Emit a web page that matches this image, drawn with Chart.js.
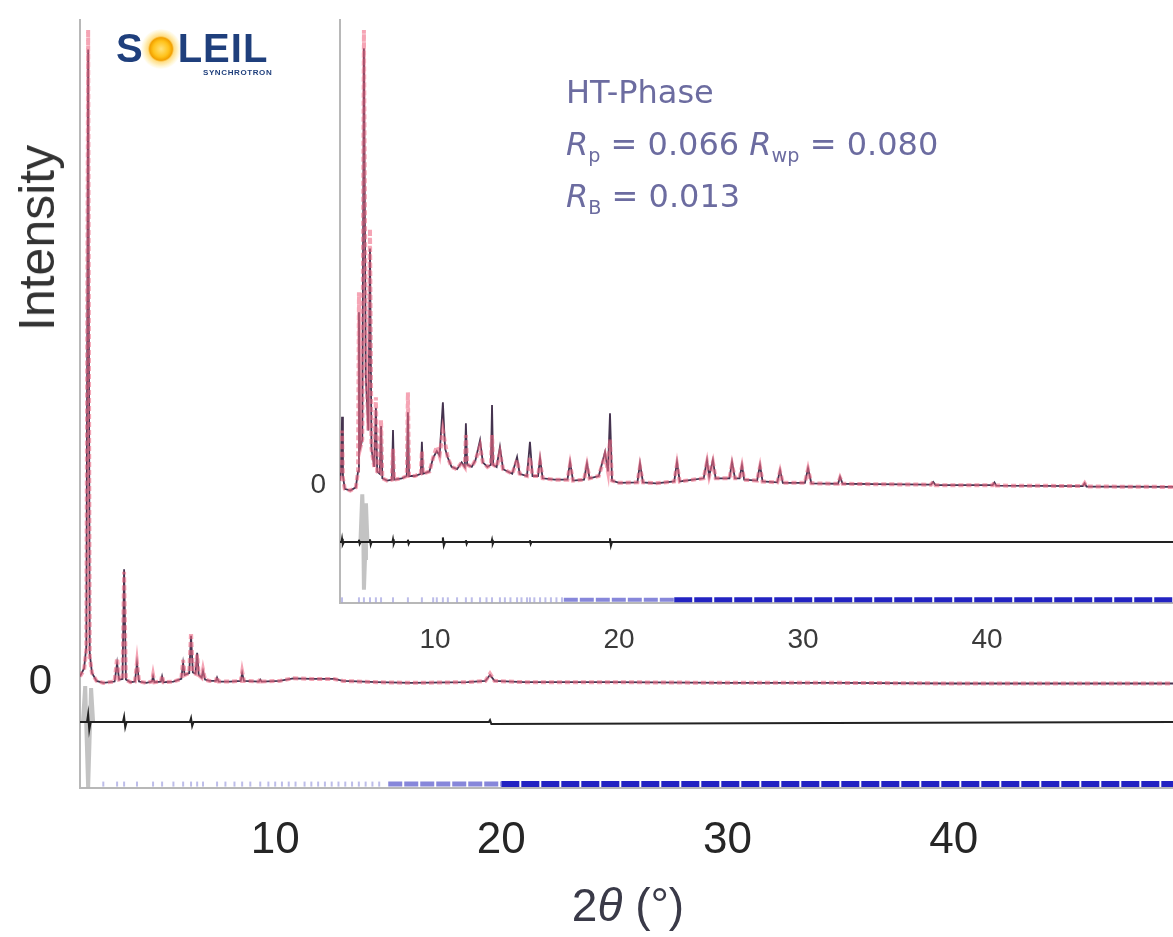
<!DOCTYPE html>
<html>
<head>
<meta charset="utf-8">
<script src="https://cdn.jsdelivr.net/npm/chart.js@4.4.1/dist/chart.umd.min.js"></script>
<style>
  html, body { margin: 0; padding: 0; background: #fff; }
  #wrap { position: relative; width: 1173px; height: 937px; overflow: hidden; font-family: "Liberation Sans", Arial, Helvetica, sans-serif; }
  canvas { position: absolute; }
  #mainChart { left: 0; top: 0; }
  #insetChart { left: 250px; top: 0; }
  .lbl { position: absolute; white-space: nowrap; color: #333; }
  #ylab { left: 37px; top: 238px; font-size: 50px; transform: translate(-50%, -50%) rotate(-90deg); }
  #xlab { left: 628px; top: 905px; font-size: 46px; transform: translate(-50%, -50%); color: #3a3a48; }
  #notes { left: 566px; top: 66px; font-family: "DejaVu Sans", sans-serif; font-size: 32px; line-height: 52px; color: #6c6ca0; }
  #notes sub { font-size: 0.6em; vertical-align: -0.35em; line-height: 0; }
  #logo { left: 116px; top: 26px; font-size: 40px; font-weight: bold; color: #1f3f7c; letter-spacing: 1px; }
  #logo .sun { display: inline-block; width: 40px; height: 40px; border-radius: 50%; vertical-align: -7px; margin: 0 -3px;
    background: radial-gradient(circle, #ffe27a 0, #ffc21a 28%, #f2a000 40%, rgba(255,205,70,0.65) 46%, rgba(255,232,150,0.4) 62%, rgba(255,240,180,0) 72%); }
  #sync { left: 203px; top: 68px; font-size: 8px; font-weight: bold; color: #1f3f7c; letter-spacing: 0.6px; }
</style>
</head>
<body>
<div id="wrap">
  <canvas id="mainChart" width="1173" height="937"></canvas>
  <canvas id="insetChart" width="923" height="670"></canvas>
  <div class="lbl" id="ylab">Intensity</div>
  <div class="lbl" id="xlab">2<i>θ</i> (°)</div>
  <div class="lbl" id="notes">HT-Phase<br><i>R</i><sub>p</sub> = 0.066 <i>R</i><sub>wp</sub> = 0.080<br><i>R</i><sub>B</sub> = 0.013</div>
  <div class="lbl" id="logo">S<span class="sun"></span>LEIL</div>
  <div class="lbl" id="sync">SYNCHROTRON</div>
</div>
<script>
const FONT = '"Liberation Sans", Arial, Helvetica, sans-serif';

// ---- full pattern: 2θ (deg) and intensity (arb. units, 100 = strongest line)
const mainTheta = [1.37, 1.55, 1.65, 1.73, 1.80, 1.90, 2.10, 2.40, 2.90, 3.01,
  3.10, 3.25, 3.32, 3.40, 3.60, 3.80, 3.89, 3.98, 4.30, 4.55,
  4.60, 4.66, 4.95, 5.00, 5.06, 5.50, 5.85, 5.93, 6.00, 6.20,
  6.28, 6.36, 6.48, 6.55, 6.62, 6.75, 6.81, 6.90, 7.10, 7.38,
  7.43, 7.50, 8.00, 8.48, 8.54, 8.62, 9.28, 9.34, 9.40, 10.2,
  10.8, 11.6, 12.6, 13.0, 14.5, 16.0, 18.5, 19.3, 19.5, 19.7,
  21.0, 25.0, 30.0, 35.0, 40.0, 45.0, 49.7];
const mainObs = [1.0, 2.0, 5.0, 100, 4.0, 1.5, 0.3, 0.0, 0.2, 3.8,
  0.5, 0.6, 17.0, 0.5, 0.1, 0.2, 3.1, 0.2, 0.0, 0.2,
  1.2, 0.1, 0.2, 1.1, 0.1, 0.2, 0.6, 3.5, 1.2, 1.5,
  7.7, 1.6, 1.4, 4.3, 1.2, 0.8, 2.0, 0.5, 0.3, 0.3,
  0.9, 0.2, 0.2, 0.3, 1.7, 0.3, 0.2, 0.6, 0.2, 0.3,
  0.7, 0.6, 0.6, 0.3, 0.1, 0.0, 0.1, 0.3, 1.4, 0.3,
  0.1, 0.1, 0.0, 0.0, -0.1, -0.1, -0.1];
const mainCalc = [1.0, 2.2, 5.5, 97, 4.5, 1.5, 0.3, 0.0, 0.2, 3.0,
  0.5, 0.6, 17.4, 0.5, 0.1, 0.2, 3.0, 0.2, 0.0, 0.2,
  1.0, 0.1, 0.2, 1.0, 0.1, 0.2, 0.6, 3.0, 1.2, 1.5,
  7.2, 1.6, 1.4, 4.6, 1.2, 0.8, 1.8, 0.5, 0.3, 0.3,
  0.8, 0.2, 0.2, 0.3, 1.5, 0.3, 0.2, 0.5, 0.2, 0.3,
  0.7, 0.6, 0.6, 0.3, 0.1, 0.0, 0.1, 0.3, 1.2, 0.3,
  0.1, 0.1, 0.0, 0.0, -0.1, -0.1, -0.1];
// difference curve, shifted below the pattern
const mainDiffTheta = [1.37, 1.68, 1.73, 1.78, 1.84, 3.27, 3.32, 3.37, 3.43, 6.23, 6.28, 6.33, 6.39, 19.45, 19.5, 19.56, 49.7];
const mainDiff = [-6, -6, -4.8, -7.2, -6, -6, -5.2, -6.8, -6, -6, -5.4, -6.6, -6, -6, -5.7, -6.3, -6];
const mainResTheta = [1.50, 1.60, 1.67, 1.73, 1.79, 1.86, 1.95];
const mainRes = [-6, -0.5, -9, -16, -9, -0.8, -6];
// reflection markers
const mainTicks = [2.4, 3.01, 3.32, 3.89, 4.6, 5.0, 5.5, 5.93, 6.28, 6.55, 6.81, 7.43, 7.8, 8.2, 8.54, 8.9, 9.34,
  9.7, 10.0, 10.3, 10.6, 10.9, 11.3, 11.6, 11.9, 12.2, 12.5, 12.8, 13.1, 13.4, 13.7, 14.0, 14.3, 14.6];
const mainTickBand = [15.0, 20.0, 49.7];
const mainTickLevel = -15.5;
const mainXTicks = [10, 20, 30, 40];

// ---- inset: HT-Phase pattern
const insetTheta = [4.84, 4.90, 4.95, 5.00, 5.10, 5.40, 5.70, 5.82, 5.87, 5.93,
  6.05, 6.14, 6.24, 6.38, 6.47, 6.55, 6.70, 6.79, 6.86, 7.00,
  7.07, 7.14, 7.40, 7.66, 7.72, 7.78, 8.20, 8.47, 8.53, 8.59,
  8.90, 9.23, 9.29, 9.35, 9.70, 9.90, 10.10, 10.25, 10.43, 10.55,
  10.70, 10.90, 11.20, 11.45, 11.62, 11.68, 11.75, 12.00, 12.20, 12.45,
  12.60, 12.85, 13.04, 13.10, 13.16, 13.35, 13.53, 13.70, 14.20, 14.46,
  14.60, 15.00, 15.16, 15.30, 15.60, 15.71, 15.85, 16.50, 17.20, 17.34,
  17.50, 18.10, 18.26, 18.40, 18.90, 19.24, 19.40, 19.51, 19.62, 20.00,
  21.00, 21.14, 21.30, 22.00, 23.00, 23.15, 23.30, 24.60, 24.78, 24.90,
  25.10, 25.25, 26.00, 26.14, 26.30, 26.55, 26.68, 26.80, 27.50, 27.66,
  27.80, 28.60, 28.75, 28.90, 30.10, 30.27, 30.45, 31.90, 32.01, 32.15,
  34.00, 36.95, 37.07, 37.20, 40.30, 40.40, 40.50, 45.20, 45.30, 45.40, 50.10];
const insetObs = [1.0, 2.0, 12.0, 1.5, -0.8, -1.2, -0.5, 3.0, 42.4, 8.0,
  10.0, 100, 30.0, 12.0, 56.3, 8.0, 4.0, 19.3, 3.0, 2.5,
  14.3, 1.5, 1.0, 1.2, 8.0, 1.2, 1.5, 2.0, 20.4, 2.0,
  2.0, 2.5, 7.5, 2.5, 3.0, 6.0, 8.5, 6.5, 12.0, 9.2,
  6.0, 4.0, 3.5, 5.0, 4.0, 11.0, 4.5, 4.0, 5.5, 8.5,
  5.0, 4.0, 4.5, 11.0, 4.5, 4.0, 7.0, 3.5, 2.5, 5.5,
  2.5, 2.0, 6.0, 2.0, 2.0, 5.0, 1.5, 1.2, 1.2, 4.5,
  1.0, 1.2, 4.3, 1.5, 2.0, 6.5, 3.0, 10.0, 1.0, 0.5,
  0.6, 4.0, 0.6, 0.4, 0.8, 4.5, 0.8, 1.5, 5.0, 2.0,
  5.0, 1.5, 1.5, 4.5, 1.5, 1.5, 4.0, 1.2, 1.0, 4.0,
  0.8, 0.6, 3.0, 0.5, 0.5, 3.5, 0.4, 0.3, 1.6, 0.3,
  0.2, 0.1, 0.7, 0.0, 0.0, 0.6, -0.1, -0.2, 0.4, -0.3, -0.4];
const insetCalc = [1.0, 3.0, 15.0, 2.0, -0.8, -1.2, -0.5, 3.0, 38.0, 8.0,
  10.0, 96, 24.0, 12.0, 52.0, 8.0, 4.0, 17.0, 3.0, 2.5,
  13.0, 1.5, 1.0, 1.2, 12.1, 1.2, 1.5, 2.0, 16.0, 2.0,
  2.0, 2.5, 9.5, 2.5, 3.0, 6.0, 7.5, 6.5, 18.2, 8.0,
  6.0, 4.0, 3.5, 5.0, 4.0, 13.6, 4.5, 4.0, 5.5, 9.9,
  5.0, 4.0, 4.5, 17.6, 4.5, 4.0, 8.4, 3.5, 2.5, 6.2,
  2.5, 2.0, 9.5, 2.0, 2.0, 5.9, 1.5, 1.2, 1.2, 5.1,
  1.0, 1.2, 4.8, 1.5, 2.0, 7.3, 3.0, 15.8, 1.0, 0.5,
  0.6, 4.8, 0.6, 0.4, 0.8, 5.1, 0.8, 1.5, 5.5, 2.0,
  5.5, 1.5, 1.5, 5.1, 1.5, 1.5, 4.4, 1.2, 1.0, 4.4,
  0.8, 0.6, 3.3, 0.5, 0.5, 3.7, 0.4, 0.3, 1.8, 0.3,
  0.2, 0.1, 0.7, 0.0, 0.0, 0.6, -0.1, -0.2, 0.4, -0.3, -0.4];
const insetDiffTheta = [4.84, 4.92, 4.95, 4.99, 5.05, 5.84, 5.87, 5.91, 5.96, 6.44, 6.47, 6.51, 6.56,
  7.69, 7.72, 7.76, 7.80, 8.50, 8.53, 8.57, 8.62, 10.39, 10.43, 10.48, 10.55, 11.65, 11.68, 11.72, 11.76,
  13.07, 13.10, 13.14, 13.18, 15.13, 15.16, 15.20, 15.24, 19.47, 19.51, 19.56, 19.62, 50.1];
const insetDiff = [-12.5, -12.5, -11.8, -13.0, -12.5, -12.5, -12.0, -12.9, -12.5, -12.5, -11.9, -13.1, -12.5,
  -12.5, -11.9, -12.9, -12.5, -12.5, -12.0, -12.9, -12.5, -12.5, -11.5, -13.3, -12.5, -12.5, -12.1, -12.9, -12.5,
  -12.5, -12.0, -12.9, -12.5, -12.5, -12.1, -12.9, -12.5, -12.5, -11.7, -13.3, -12.5, -12.5];
const insetResTheta = [5.95, 6.05, 6.10, 6.14, 6.20, 6.25, 6.33];
const insetRes = [-12.5, -2, -8, -23, -16, -4, -12.5];
const insetTicks = [4.95, 5.87, 6.14, 6.47, 6.79, 7.07, 7.72, 8.53, 9.29, 9.9, 10.1, 10.43, 10.7, 11.2, 11.68, 12.0,
  12.45, 12.8, 13.1, 13.53, 13.8, 14.1, 14.46, 14.7, 15.0, 15.16, 15.4, 15.71, 16.0, 16.3, 16.6, 16.9];
const insetTickBand = [17.0, 23.0, 50.1];
const insetTickLevel = -25.2;
const insetXTicks = [10, 20, 30, 40];

const pts = (xs, ys) => xs.map((x, i) => ({ x: x, y: ys[i] }));
const level = (xs, y) => xs.map(x => ({ x: x, y: y }));

function patternSets(theta, obs, calc, dTheta, diff, rTheta, res, ticks, band, lvl, bandW) {
  return [
    { data: pts(theta, obs), borderColor: 'rgba(238,105,132,0.6)', borderWidth: 4, borderDash: [5, 3], order: 1 },
    { data: pts(theta, calc), borderColor: '#45334f', borderWidth: 1.8, order: 2 },
    { data: pts(dTheta, diff), borderColor: '#222', borderWidth: 2, order: 3 },
    { data: pts(rTheta, res), borderColor: 'rgba(175,175,175,0.75)', borderWidth: 4, order: 4 },
    { data: level(ticks, lvl), showLine: false, pointStyle: 'line', pointRotation: 90, pointRadius: 2.5,
      pointBorderColor: 'rgba(135,135,215,0.55)', pointBorderWidth: 2, order: 5 },
    { data: level([band[0], band[1]], lvl), borderColor: 'rgba(95,95,205,0.75)', borderWidth: bandW - 1, borderDash: [14, 2], order: 6 },
    { data: level([band[1], band[2]], lvl), borderColor: '#2323c2', borderWidth: bandW, borderDash: [18, 2], order: 7 }
  ];
}

function scales(o) {
  return {
    x: {
      type: 'linear', min: o.xmin, max: o.xmax,
      grid: { display: false, drawTicks: false },
      border: { display: true, color: '#b8b8b8', width: 2 },
      afterBuildTicks: s => { s.ticks = o.xticks.map(v => ({ value: v })); },
      afterFit: s => { s.height = o.xh; s.paddingLeft = 0; s.paddingRight = 0; },
      ticks: { font: { family: FONT, size: o.fs }, color: o.color, padding: o.xpad, maxRotation: 0, autoSkip: false }
    },
    y: {
      type: 'linear', min: o.ymin, max: o.ymax,
      grid: { display: false, drawTicks: false },
      border: { display: true, color: '#b8b8b8', width: 2 },
      afterBuildTicks: s => { s.ticks = [{ value: 0 }]; },
      afterFit: s => { s.width = o.yw; s.paddingTop = 0; s.paddingBottom = 0; },
      ticks: { font: { family: FONT, size: o.yfs }, color: o.color, padding: o.ypad }
    }
  };
}

const common = {
  responsive: false, animation: false, events: [],
  elements: { point: { radius: 0 }, line: { tension: 0 } },
  plugins: { legend: { display: false }, tooltip: { enabled: false } }
};

new Chart(document.getElementById('mainChart'), {
  type: 'line',
  data: { datasets: patternSets(mainTheta, mainObs, mainCalc, mainDiffTheta, mainDiff,
    mainResTheta, mainRes, mainTicks, mainTickBand, mainTickLevel, 6) },
  options: Object.assign({}, common, {
    layout: { autoPadding: false, padding: { top: 20, right: 0, bottom: 0, left: 0 } },
    scales: scales({ xmin: 1.37, xmax: 49.7, xticks: mainXTicks, xh: 149, fs: 44, xpad: 26,
      ymin: -16.1, ymax: 101.5, yw: 80, yfs: 42, ypad: 28, color: '#262626' })
  })
});

new Chart(document.getElementById('insetChart'), {
  type: 'line',
  data: { datasets: patternSets(insetTheta, insetObs, insetCalc, insetDiffTheta, insetDiff,
    insetResTheta, insetRes, insetTicks, insetTickBand, insetTickLevel, 5) },
  options: Object.assign({}, common, {
    layout: { autoPadding: false, padding: { top: 20, right: 0, bottom: 0, left: 0 } },
    scales: scales({ xmin: 4.84, xmax: 50.1, xticks: insetXTicks, xh: 67, fs: 28, xpad: 20,
      ymin: -25.9, ymax: 102.2, yw: 90, yfs: 28, ypad: 14, color: '#3a3a3a' })
  })
});
</script>
</body>
</html>
